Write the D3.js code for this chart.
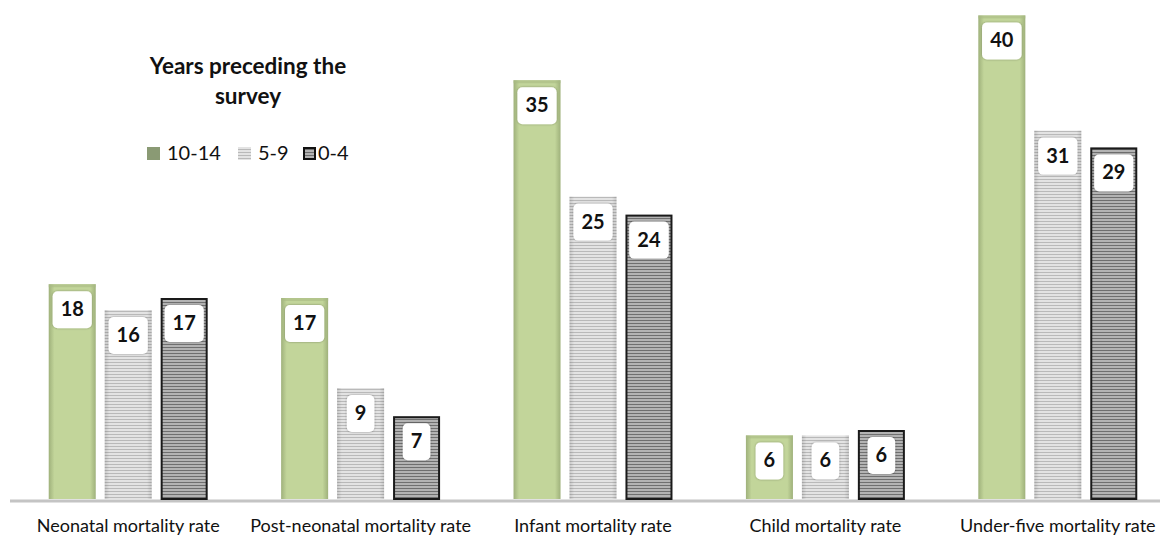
<!DOCTYPE html>
<html><head><meta charset="utf-8">
<script src="https://cdn.jsdelivr.net/npm/d3@7/dist/d3.min.js"></script>
<style>
html,body{margin:0;padding:0;background:#fff;}
svg{display:block;font-family:Lato,"Open Sans",sans-serif;}
</style></head>
<body>
<svg id="chart" width="1160" height="537"></svg>
<script>
const categories = ["Neonatal mortality rate","Post-neonatal mortality rate","Infant mortality rate","Child mortality rate","Under-five mortality rate"];
const seriesNames = ["10-14","5-9","0-4"];
const values1014 = [17.9, 16.75, 34.9, 5.3, 40.3];
const values59   = [15.75, 9.25, 25.2, 5.3, 30.7];
const values04   = [16.75, 6.9, 23.7, 5.75, 29.3];
const labels1014 = ["18","17","35","6","40"];
const labels59   = ["16","9","25","6","31"];
const labels04   = ["17","7","24","6","29"];
const legendTitle = ["Years preceding the","survey"];

const svg = d3.select("#chart");
const defs = svg.append("defs");

const g1 = defs.append("linearGradient").attr("id","gGreen").attr("x1","0").attr("x2","1").attr("y1","0").attr("y2","0");
[[0,"#9fb17b"],[0.12,"#c2d59a"],[0.88,"#c2d59a"],[1,"#9fb17b"]].forEach(s=>g1.append("stop").attr("offset",s[0]).attr("stop-color",s[1]));
const p1 = defs.append("pattern").attr("id","pLight").attr("patternUnits","userSpaceOnUse").attr("width",8).attr("height",3);
p1.append("rect").attr("width",8).attr("height",3).attr("fill","#e3e3e3");
p1.append("rect").attr("y",2).attr("width",8).attr("height",1).attr("fill","#b9b9b9");
const p2 = defs.append("pattern").attr("id","pDark").attr("patternUnits","userSpaceOnUse").attr("width",8).attr("height",3);
p2.append("rect").attr("width",8).attr("height",3).attr("fill","#b3b3b3");
p2.append("rect").attr("y",2).attr("width",8).attr("height",1).attr("fill","#6f6f6f");
const g2 = defs.append("linearGradient").attr("id","gEdge").attr("x1","0").attr("x2","1");
[[0,"rgba(0,0,0,0.12)"],[0.1,"rgba(0,0,0,0)"],[0.9,"rgba(0,0,0,0)"],[1,"rgba(0,0,0,0.12)"]].forEach(s=>g2.append("stop").attr("offset",s[0]).attr("stop-color",s[1]));
const f = defs.append("filter").attr("id","sh").attr("x","-30%").attr("y","-30%").attr("width","160%").attr("height","160%");
f.append("feDropShadow").attr("dx",0).attr("dy",0).attr("stdDeviation",1.2).attr("flood-color","#000").attr("flood-opacity",0.35);

const series = [
  {name:seriesNames[0], vals:values1014, labs:labels1014, fill:"url(#gGreen)", stroke:null},
  {name:seriesNames[1], vals:values59, labs:labels59, fill:"url(#pLight)", stroke:null},
  {name:seriesNames[2], vals:values04, labs:labels04, fill:"url(#pDark)", stroke:"#1a1a1a"}
];

const x0 = d3.scaleBand().domain(categories).range([12,1174]).paddingInner(0.316).paddingOuter(0.158);
const x1 = d3.scaleBand().domain(seriesNames).range([0,x0.bandwidth()]).paddingInner(0.16).paddingOuter(0);
const y = d3.scaleLinear().domain([0,40]).range([499,19]);

svg.append("line").attr("x1",10).attr("x2",1160).attr("y1",501).attr("y2",501).attr("stroke","#c4c4c4").attr("stroke-width",3);

series.forEach(s=>{
  categories.forEach((c,i)=>{
    const g = svg.append("g").attr("transform",`translate(${x0(c)+x1(s.name)},0)`);
    const w = x1.bandwidth();
    const top = y(s.vals[i]);
    const h = y(0)-top;
    if(s.stroke){
      g.append("rect").attr("x",1).attr("y",top+1).attr("width",w-2).attr("height",h-1)
        .attr("fill",s.fill).attr("stroke",s.stroke).attr("stroke-width",2);
    } else {
      g.append("rect").attr("x",0).attr("y",top).attr("width",w).attr("height",h).attr("fill",s.fill);
      if(s.name!=="10-14") g.append("rect").attr("x",0).attr("y",top).attr("width",w).attr("height",h).attr("fill","url(#gEdge)");
      else g.append("rect").attr("x",0).attr("y",top).attr("width",w).attr("height",3).attr("fill","#a9ba84").attr("opacity",0.6);
    }
    const t = g.append("text").attr("x",w/2).attr("y",top+32).attr("text-anchor","middle")
      .attr("font-weight","bold").attr("font-size",20).attr("fill","#111").text(s.labs[i]);
    const bb = t.node().getBBox();
    const bw = bb.width+16, bh = 37;
    g.insert("rect","text").attr("x",w/2-bw/2).attr("y",top+7).attr("width",bw).attr("height",bh)
      .attr("rx",5).attr("fill","#fff").attr("filter","url(#sh)");
  });
});

svg.selectAll("text.cat").data(categories).join("text").attr("class","cat")
  .attr("x",d=>x0(d)+x0.bandwidth()/2).attr("y",532).attr("text-anchor","middle")
  .attr("font-size",18).attr("fill","#111").text(d=>d);

const lg = svg.append("g");
legendTitle.forEach((t,i)=>lg.append("text").attr("x",248).attr("y",74+i*30).attr("text-anchor","middle")
  .attr("font-weight","bold").attr("font-size",22.5).attr("fill","#111").text(t));
const legendX = [147,238,303];
const legendFill = ["#8a9a74","#cfcfcf","#9a9a9a"];
series.forEach((s,i)=>{
  if(i===2){
    lg.append("rect").attr("x",legendX[i]+1).attr("y",148).attr("width",11).attr("height",11).attr("fill","url(#pDark)").attr("stroke","#111").attr("stroke-width",2);
  } else if(i===1){
    lg.append("rect").attr("x",legendX[i]).attr("y",147).attr("width",13).attr("height",13).attr("fill","url(#pLight)");
  } else {
    lg.append("rect").attr("x",legendX[i]).attr("y",147).attr("width",13).attr("height",13).attr("fill",legendFill[i]);
  }
  lg.append("text").attr("x",legendX[i]+(i===2?15:20)).attr("y",160).attr("font-size",20).attr("fill","#111").text(s.name);
});
</script>
</body></html>
